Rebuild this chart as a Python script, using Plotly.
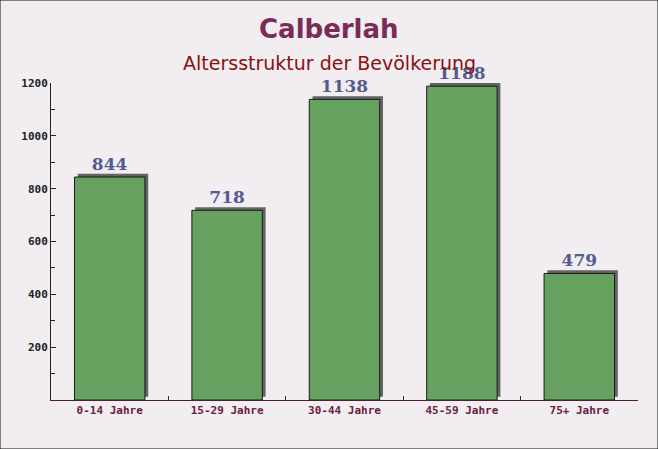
import plotly.graph_objects as go

categories = ["0-14 Jahre", "15-29 Jahre", "30-44 Jahre", "45-59 Jahre", "75+ Jahre"]
values = [844, 718, 1138, 1188, 479]
y_ticks = [200, 400, 600, 800, 1000, 1200]

PH = 317.0  # plot height in px
PW = 587.0

fig = go.Figure()

# shadow (3D effect)
fig.add_trace(go.Bar(
    x=categories, y=values, base=[12] * len(values),
    width=0.6, offset=-0.272,
    marker=dict(color="#646464", line=dict(width=0)),
    hoverinfo="skip", showlegend=False,
))
# main bars
fig.add_trace(go.Bar(
    x=categories, y=values,
    width=0.6, offset=-0.3,
    marker=dict(color="#67a160", line=dict(color="#1a1a1a", width=1)),
    texttemplate="<b>%{y}</b>", textposition="outside",
    textfont=dict(family="DejaVu Serif", size=17, color="#545c8f"),
    cliponaxis=False, showlegend=False,
))

fig.update_layout(
    width=658, height=449,
    margin=dict(l=51, r=20, t=83, b=49),
    paper_bgcolor="#f1edf0", plot_bgcolor="rgba(0,0,0,0)",
    barmode="overlay",
    xaxis=dict(
        type="category", showgrid=False, showline=True, linecolor="#4a2030", linewidth=1,
        ticks="inside", tickson="boundaries", ticklen=4, tickcolor="#4a2030",
        tickvals=categories, ticktext=["<b>%s</b>" % c for c in categories],
        tickfont=dict(family="DejaVu Sans Mono", size=11, color="#6a2040"),
        range=[-0.5, 4.5],
    ),
    yaxis=dict(
        range=[0, 1200], tickvals=y_ticks, ticktext=["<b>%d</b>" % t for t in y_ticks],
        showgrid=False, showline=True,
        linecolor="#222", linewidth=1, ticks="inside", ticklen=5, tickcolor="#222",
        tickfont=dict(family="DejaVu Sans Mono", size=11, color="#222"),
        minor=dict(dtick=100, ticks="inside", ticklen=4, tickcolor="#222"),
        zeroline=False,
    ),
    annotations=[
        dict(text="<b>Calberlah</b>", xref="paper", yref="paper",
             x=(329 - 51) / PW, y=1 + (83 - 29) / PH, xanchor="center", yanchor="middle",
             showarrow=False, font=dict(family="DejaVu Sans", size=26, color="#7a2b56")),
        dict(text="Altersstruktur der Bevölkerung", xref="paper", yref="paper",
             x=(329 - 51) / PW, y=1 + (83 - 63) / PH, xanchor="center", yanchor="middle",
             showarrow=False, font=dict(family="DejaVu Sans", size=19, color="#8b1010")),
    ],
    shapes=[dict(type="rect", xref="paper", yref="paper", x0=-51 / PW, x1=1 + 20 / PW,
                 y0=-49 / PH, y1=1 + 83 / PH, line=dict(color="#111", width=1))],
)

fig.write_html("out.html")
